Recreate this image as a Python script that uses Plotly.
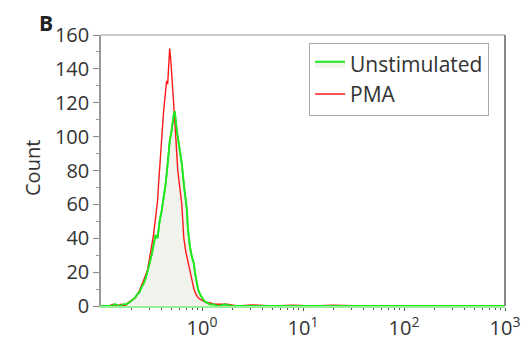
import plotly.graph_objects as go

# log10 of fluorescence intensity and counts
unstim_log = [-1.00, -0.94, -0.90, -0.86, -0.82, -0.78, -0.75, -0.72, -0.70, -0.68, -0.66, -0.64,
              -0.62, -0.60, -0.58, -0.56, -0.54, -0.52, -0.50, -0.48, -0.46, -0.44, -0.42, -0.40,
              -0.38, -0.36, -0.34, -0.32, -0.30, -0.29, -0.28, -0.27, -0.26, -0.25, -0.24, -0.23,
              -0.22, -0.20, -0.18, -0.16, -0.15, -0.14, -0.13, -0.12, -0.10, -0.08, -0.07, -0.06,
              -0.04, -0.02, 0.00, 0.02, 0.05, 0.08, 0.12, 0.16, 0.22, 0.30, 0.40, 0.60, 1.0, 1.5,
              2.0, 2.5, 3.0]
unstim_count = [0, 0, 0, 1, 0, 1, 1, 2, 3, 4, 5, 7,
                8, 11, 13, 16, 20, 25, 30, 36, 42, 40, 50, 56,
                63, 72, 84, 97, 104, 110, 113, 115, 108, 104, 100, 96,
                94, 84, 72, 62, 57, 46, 40, 35, 29, 25, 20, 16,
                10, 7, 5, 3, 2, 1, 1, 0, 1, 0, 0, 0, 0, 0,
                0, 0, 0]

pma_log = [-1.00, -0.92, -0.88, -0.84, -0.80, -0.76, -0.73, -0.70, -0.68, -0.66, -0.64, -0.62,
           -0.60, -0.58, -0.56, -0.54, -0.52, -0.50, -0.48, -0.46, -0.44, -0.43, -0.42, -0.41,
           -0.40, -0.38, -0.36, -0.35, -0.34, -0.33, -0.32, -0.31, -0.30, -0.29, -0.28, -0.27,
           -0.26, -0.25, -0.24, -0.22, -0.20, -0.19, -0.18, -0.16, -0.14, -0.12, -0.10, -0.08,
           -0.06, -0.04, -0.02, 0.01, 0.04, 0.08, 0.12, 0.18, 0.25, 0.35, 0.50, 0.70, 0.90,
           1.10, 1.30, 1.60, 2.0, 3.0]
pma_count = [0, 0, 1, 0, 1, 0, 2, 3, 4, 5, 7, 9,
             12, 15, 18, 21, 28, 35, 42, 52, 62, 72, 82, 92,
             100, 115, 127, 133, 131, 140, 152, 146, 138, 128, 118, 110,
             100, 90, 80, 70, 60, 50, 40, 32, 26, 20, 14, 10,
             7, 5, 4, 3, 2, 2, 1, 1, 1, 0, 0.6, 0, 0.5,
             0, 0.5, 0, 0, 0]

y_ticks = [0, 20, 40, 60, 80, 100, 120, 140, 160]
x_ticks = [1, 10, 100, 1000]
x_ticktext = ["10<sup>0</sup>", "10<sup>1</sup>", "10<sup>2</sup>", "10<sup>3</sup>"]
x_minor = [m * 10 ** e for e in (-1, 0, 1, 2) for m in range(2, 10)]

unstim_x = [10 ** v for v in unstim_log]
pma_x = [10 ** v for v in pma_log]

FONT = "Open Sans"

fig = go.Figure()
fig.add_trace(go.Scatter(x=unstim_x, y=unstim_count, mode="lines", name="Unstimulated",
                         line=dict(color="#22e622", width=1.8), fill="tozeroy",
                         fillcolor="#f3f3ee"))
fig.add_trace(go.Scatter(x=pma_x, y=pma_count, mode="lines", name="PMA",
                         line=dict(color="#ff1a1a", width=1.4)))
fig.add_trace(go.Scatter(x=unstim_x, y=unstim_count, mode="lines", showlegend=False,
                         line=dict(color="#22e622", width=1.8), hoverinfo="skip"))

# the page body has an 8px default margin, so the figure is 8px smaller each way
fig.update_layout(
    width=521, height=332,
    margin=dict(l=93, r=24, t=27, b=34, autoexpand=False),
    paper_bgcolor="white", plot_bgcolor="white",
    font=dict(family=FONT, color="#333333", size=20),
    showlegend=True,
    legend=dict(x=0.515, y=0.972, xanchor="left", yanchor="top",
                bordercolor="#aaaaaa", borderwidth=1, bgcolor="white",
                font=dict(size=21, color="#333333"), tracegroupgap=0,
                itemwidth=30),
    xaxis=dict(type="log", range=[-1, 3], tickvals=x_ticks, ticktext=x_ticktext,
               automargin=False,
               ticks="outside", ticklen=3, tickcolor="#555555",
               showline=True, linecolor="#99ee99", linewidth=2,
               showgrid=False, zeroline=False,
               tickfont=dict(size=20, color="#333333"),
               minor=dict(tickvals=x_minor, ticks="outside", ticklen=2,
                          tickcolor="#555555", showgrid=False)),
    yaxis=dict(range=[0, 160], tickvals=y_ticks, ticks="outside", ticklen=6,
               automargin=False,
               tickcolor="#888888", showline=True, linecolor="#999999", linewidth=1.5,
               showgrid=False, zeroline=False,
               tickfont=dict(size=20, color="#333333"),
               minor=dict(dtick=10, ticks="outside", ticklen=3, tickcolor="#999999",
                          showgrid=False)),
    annotations=[
        dict(text="Count", xref="paper", yref="paper", x=-0.171, y=0.509,
             textangle=-90, showarrow=False, font=dict(size=20, color="#333333"),
             xanchor="center", yanchor="middle"),
        dict(text="<b>B</b>", xref="paper", yref="paper", x=-0.158, y=1.043,
             showarrow=False, font=dict(size=21, color="#222222"),
             xanchor="left", yanchor="middle"),
    ],
    shapes=[
        dict(type="line", xref="paper", yref="paper", x0=0, x1=1, y0=1, y1=1,
             line=dict(color="#bbbbbb", width=1.5)),
        dict(type="line", xref="paper", yref="paper", x0=1, x1=1, y0=0, y1=1,
             line=dict(color="#888888", width=2)),
    ],
)

fig.write_html("out.html")
